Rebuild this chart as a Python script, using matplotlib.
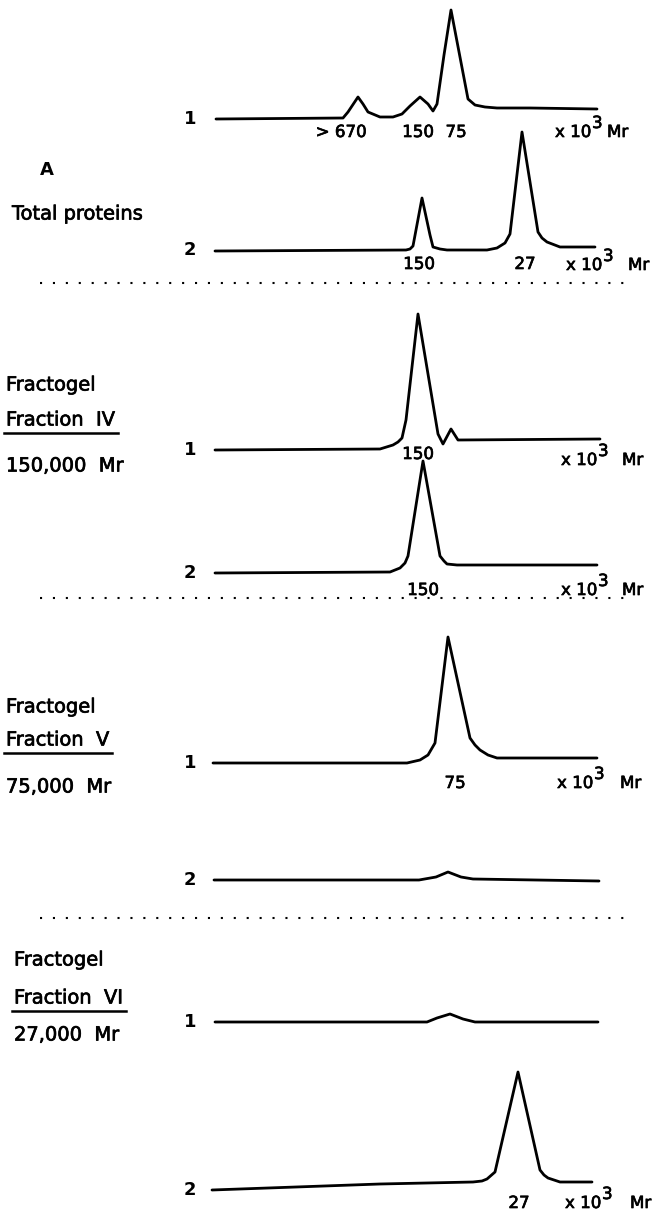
import matplotlib
matplotlib.use("Agg")
import matplotlib.pyplot as plt
import matplotlib.patheffects as pe
import numpy as np

# ---- data -------------------------------------------------------------------
# x = position along the elution strip, h = signal above the start level of
# each trace (both in the units of the page strip)
a1_x = [216, 343, 348, 358, 363, 368, 380, 393, 402, 410, 420, 428, 433, 437,
        444, 451, 468, 475, 485, 497, 530, 597]
a1_h = [0, 1, 7, 22, 15, 7, 2, 2, 5, 13, 22, 15, 8, 15, 64, 109, 20, 14, 12,
        11, 11, 10]

a2_x = [215, 406, 410, 413, 422, 430, 433, 440, 447, 487, 497, 505, 510, 522,
        538, 542, 547, 560, 595]
a2_h = [-1, 0, 1, 4, 52, 15, 3, 1, 0, 0, 2, 7, 16, 118, 18, 12, 8, 3, 3]

iv1_x = [215, 380, 393, 398, 402, 406, 418, 438, 443, 451, 458, 600]
iv1_h = [0, 1, 5, 8, 12, 30, 136, 16, 6, 21, 10, 11]

iv2_x = [215, 390, 400, 405, 408, 423, 440, 444, 447, 457, 597]
iv2_h = [0, 1, 5, 10, 17, 112, 17, 12, 9, 8, 8]

v1_x = [213, 407, 420, 428, 435, 448, 470, 475, 480, 488, 497, 597]
v1_h = [0, 0, 3, 8, 20, 126, 25, 18, 13, 8, 5, 5]

v2_x = [214, 419, 436, 448, 461, 473, 599]
v2_h = [0, 0, 3, 8, 3, 1, -1]

vi1_x = [215, 427, 437, 450, 463, 475, 598]
vi1_h = [0, 0, 4, 8, 3, 0, 0]

vi2_x = [212, 380, 473, 482, 487, 495, 518, 540, 544, 548, 560, 592]
vi2_h = [0, 6, 8, 9, 11, 18, 118, 20, 15, 12, 8, 8]

run_labels = ["1", "2", "1", "2", "1", "2", "1", "2"]

# molecular weight marks (x 10^3) printed under the traces
a1_marks = ["> 670", "150", "75"]
a2_marks = ["150", "27"]
iv1_marks = ["150"]
iv2_marks = ["150"]
v1_marks = ["75"]
vi2_marks = ["27"]

sections = [
    ["A", "Total proteins"],
    ["Fractogel", "Fraction  IV", "150,000  Mr"],
    ["Fractogel", "Fraction  V", "75,000  Mr"],
    ["Fractogel", "Fraction  VI", "27,000  Mr"],
]

# ---- layout -----------------------------------------------------------------
W, H = 657, 1212
fig = plt.figure(figsize=(W / 100, H / 100), dpi=100)
ax = fig.add_axes([0, 0, 1, 1])
ax.set_xlim(0, W)
ax.set_ylim(H, 0)
ax.axis("off")

FONT = "DejaVu Sans"
# the lettering on the scan is a bit heavier than a regular face
heavy = [pe.withStroke(linewidth=0.5, foreground="black")]

traces = [
    (a1_x, a1_h, 119),
    (a2_x, a2_h, 250),
    (iv1_x, iv1_h, 450),
    (iv2_x, iv2_h, 573),
    (v1_x, v1_h, 763),
    (v2_x, v2_h, 880),
    (vi1_x, vi1_h, 1022),
    (vi2_x, vi2_h, 1190),
]

for (xs, hs, base), lab in zip(traces, run_labels):
    ax.plot(xs, base - np.asarray(hs), color="black", lw=2.0,
            solid_joinstyle="round", solid_capstyle="round")
    ax.text(190, base, lab, fontsize=13, fontweight="bold", family=FONT,
            ha="center", va="center")

# peak marks: (labels, x centres, y)
mark_pos = [
    (a1_marks, [341, 418, 456], 132),
    (a2_marks, [419, 525], 264),
    (iv1_marks, [418], 454),
    (iv2_marks, [423], 590),
    (v1_marks, [455], 783),
    (vi2_marks, [519], 1203),
]
for labels, xs, y in mark_pos:
    for lab, x in zip(labels, xs):
        ax.text(x, y, lab, fontsize=12, family=FONT, ha="center",
                va="center", path_effects=heavy)

# "x 10^3 Mr" units: (x of "x", y, x of "Mr")
unit_pos = [(555, 132, 607), (566, 265, 628), (561, 460, 622),
            (561, 590, 622), (557, 783, 620), (565, 1203, 630)]
for x, y, xm in unit_pos:
    ax.text(x, y, "x 10", fontsize=12, family=FONT, ha="left", va="center",
            path_effects=heavy)
    ax.text(x + 37, y - 9, "3", fontsize=12, family=FONT, ha="left",
            va="center", path_effects=heavy)
    ax.text(xm, y, "Mr", fontsize=12, family=FONT, ha="left", va="center",
            path_effects=heavy)

# dotted separators
for y in [283, 598, 918]:
    ax.hlines(y, 40, 632, color="black", lw=1.5, linestyles=(0, (1, 5.2)))

# left-hand captions: (x, list of y)
caption_pos = [
    (12, [170, 214]),
    (6, [385, 420, 466]),
    (6, [707, 740, 787]),
    (14, [960, 998, 1035]),
]
underlined = []
for lines, (x, ys) in zip(sections, caption_pos):
    for txt, y in zip(lines, ys):
        if txt == "A":
            ax.text(47, y, txt, fontsize=13, fontweight="bold", family=FONT,
                    ha="center", va="center")
            continue
        t = ax.text(x, y, txt, fontsize=14, family=FONT, ha="left",
                    va="center", path_effects=heavy)
        if txt.startswith("Fraction"):
            underlined.append(t)

fig.canvas.draw()
inv = ax.transData.inverted()
for t in underlined:
    bb = t.get_window_extent()
    (x0, y0), (x1, y1) = inv.transform([(bb.x0, bb.y0), (bb.x1, bb.y1)])
    ax.plot([x0 - 2, x1 + 2], [y0 + 3, y0 + 3], color="black", lw=1.8)

fig.savefig("out.png", dpi=100)
